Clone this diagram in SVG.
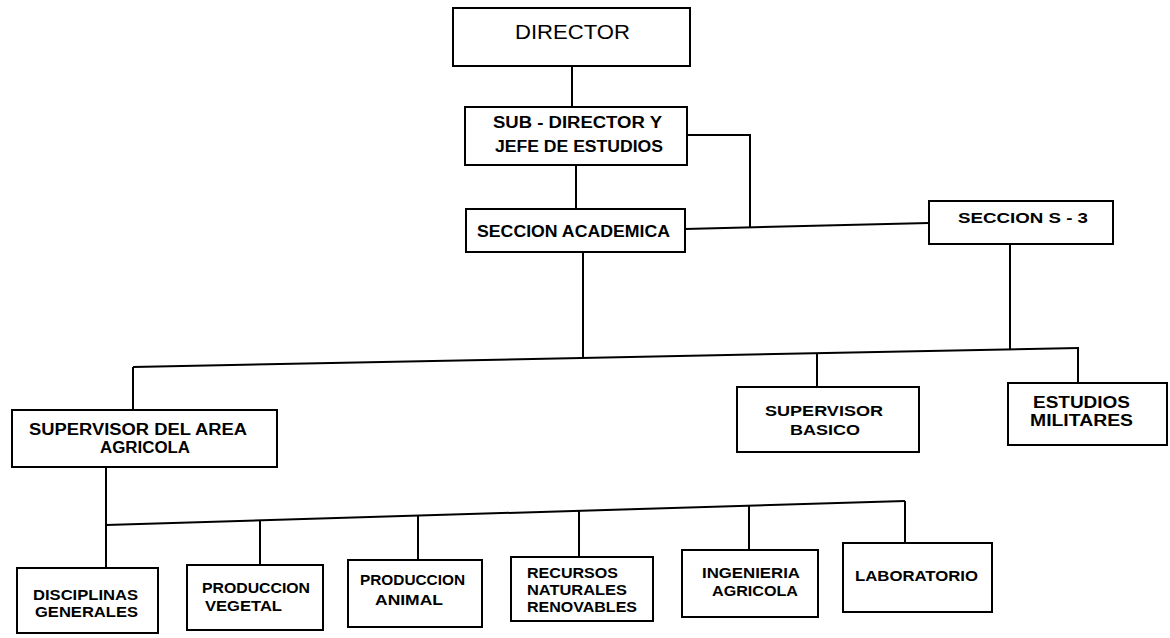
<svg xmlns="http://www.w3.org/2000/svg" width="1170" height="638" viewBox="0 0 1170 638">
<style>
.box{fill:#fff;stroke:#000;stroke-width:2}
.c{fill:none;stroke:#000;stroke-width:2}
text{font-family:"Liberation Sans",Arial,sans-serif;fill:#000}
.t{font-size:16px;font-weight:bold}
.s{font-size:15px;font-weight:bold}
</style>
<rect width="1170" height="638" fill="#fff"/>
<g id="connectors">
<line class="c" x1="572" y1="66" x2="572" y2="107"/>
<line class="c" x1="576" y1="165" x2="576" y2="209"/>
<polyline class="c" points="687,135 750,135 750,227"/>
<line class="c" x1="685" y1="229" x2="929" y2="223"/>
<line class="c" x1="583" y1="252" x2="583" y2="358"/>
<line class="c" x1="1010" y1="244" x2="1010" y2="350"/>
<line class="c" x1="133" y1="367" x2="1079" y2="348"/>
<line class="c" x1="133" y1="367" x2="133" y2="410"/>
<line class="c" x1="817" y1="353" x2="817" y2="387"/>
<line class="c" x1="1078" y1="348" x2="1078" y2="383"/>
<line class="c" x1="106" y1="467" x2="106" y2="568"/>
<line class="c" x1="106" y1="525" x2="905" y2="501"/>
<line class="c" x1="260" y1="520" x2="260" y2="565"/>
<line class="c" x1="418" y1="516" x2="418" y2="560"/>
<line class="c" x1="579" y1="511" x2="579" y2="557"/>
<line class="c" x1="749" y1="506" x2="749" y2="550"/>
<line class="c" x1="905" y1="501" x2="905" y2="543"/>
</g>
<g id="director">
<rect class="box" x="453" y="8" width="237" height="58"/>
<text x="515" y="39" font-size="21" textLength="115" lengthAdjust="spacingAndGlyphs">DIRECTOR</text>
</g>
<g id="subdirector">
<rect class="box" x="465" y="107" width="222" height="58"/>
<text class="t" x="493" y="128" textLength="169" lengthAdjust="spacingAndGlyphs">SUB - DIRECTOR  Y</text>
<text class="t" x="495" y="152" textLength="168" lengthAdjust="spacingAndGlyphs">JEFE  DE  ESTUDIOS</text>
</g>
<g id="seccion-academica">
<rect class="box" x="466" y="209" width="219" height="43"/>
<text class="t" x="477" y="237" textLength="193" lengthAdjust="spacingAndGlyphs">SECCION  ACADEMICA</text>
</g>
<g id="seccion-s3">
<rect class="box" x="929" y="201" width="184" height="43"/>
<text class="s" x="958" y="223" textLength="130" lengthAdjust="spacingAndGlyphs">SECCION  S - 3</text>
</g>
<g id="supervisor-agricola">
<rect class="box" x="12" y="410" width="265" height="57"/>
<text class="t" x="29" y="435" textLength="218" lengthAdjust="spacingAndGlyphs">SUPERVISOR  DEL  AREA</text>
<text class="t" x="100" y="453" textLength="90" lengthAdjust="spacingAndGlyphs">AGRICOLA</text>
</g>
<g id="supervisor-basico">
<rect class="box" x="737" y="387" width="182" height="65"/>
<text class="s" x="765" y="416" textLength="118" lengthAdjust="spacingAndGlyphs">SUPERVISOR</text>
<text class="s" x="790" y="435" textLength="70" lengthAdjust="spacingAndGlyphs">BASICO</text>
</g>
<g id="estudios-militares">
<rect class="box" x="1008" y="383" width="159" height="62"/>
<text class="t" x="1033" y="408" textLength="97" lengthAdjust="spacingAndGlyphs">ESTUDIOS</text>
<text class="t" x="1030" y="426" textLength="103" lengthAdjust="spacingAndGlyphs">MILITARES</text>
</g>
<g id="disciplinas-generales">
<rect class="box" x="17" y="568" width="141" height="65"/>
<text class="s" x="33" y="600" textLength="105" lengthAdjust="spacingAndGlyphs">DISCIPLINAS</text>
<text class="s" x="35" y="617" textLength="103" lengthAdjust="spacingAndGlyphs">GENERALES</text>
</g>
<g id="produccion-vegetal">
<rect class="box" x="187" y="565" width="136" height="65"/>
<text class="s" x="202" y="593" textLength="108" lengthAdjust="spacingAndGlyphs">PRODUCCION</text>
<text class="s" x="205" y="611" textLength="77" lengthAdjust="spacingAndGlyphs">VEGETAL</text>
</g>
<g id="produccion-animal">
<rect class="box" x="348" y="560" width="134" height="67"/>
<text class="s" x="360" y="585" textLength="105" lengthAdjust="spacingAndGlyphs">PRODUCCION</text>
<text class="s" x="375" y="605" textLength="68" lengthAdjust="spacingAndGlyphs">ANIMAL</text>
</g>
<g id="recursos-naturales">
<rect class="box" x="511" y="557" width="142" height="64"/>
<text class="s" x="527" y="578" textLength="91" lengthAdjust="spacingAndGlyphs">RECURSOS</text>
<text class="s" x="527" y="595" textLength="100" lengthAdjust="spacingAndGlyphs">NATURALES</text>
<text class="s" x="527" y="612" textLength="110" lengthAdjust="spacingAndGlyphs">RENOVABLES</text>
</g>
<g id="ingenieria-agricola">
<rect class="box" x="682" y="550" width="136" height="67"/>
<text class="s" x="702" y="578" textLength="98" lengthAdjust="spacingAndGlyphs">INGENIERIA</text>
<text class="s" x="712" y="596" textLength="86" lengthAdjust="spacingAndGlyphs">AGRICOLA</text>
</g>
<g id="laboratorio">
<rect class="box" x="843" y="543" width="149" height="69"/>
<text class="s" x="855" y="581" textLength="123" lengthAdjust="spacingAndGlyphs">LABORATORIO</text>
</g>
</svg>
